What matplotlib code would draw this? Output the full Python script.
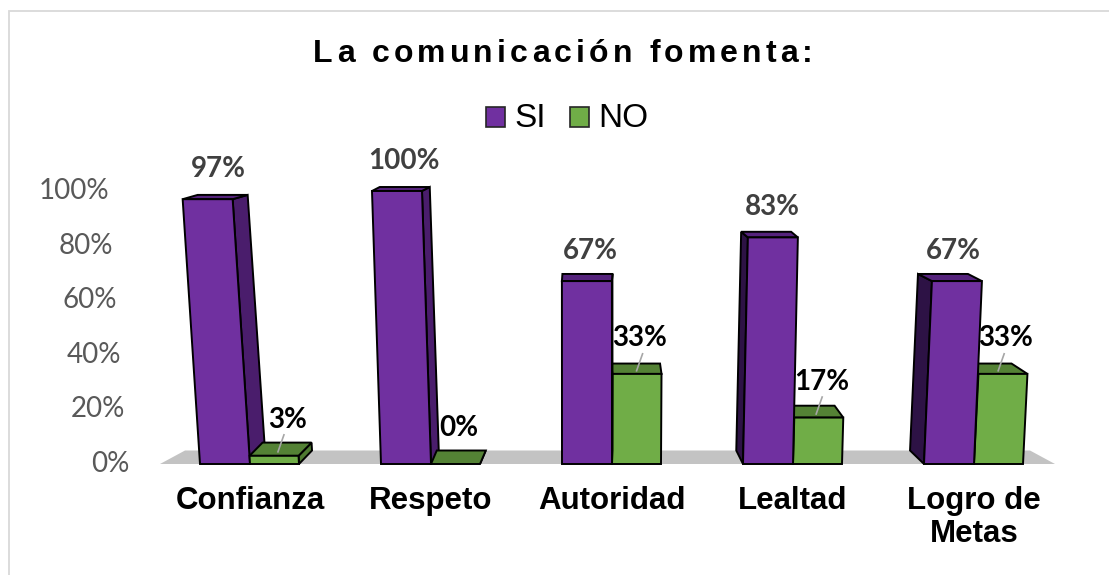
import numpy as np
import matplotlib
matplotlib.use('Agg')
import matplotlib.pyplot as plt
from matplotlib.patches import Polygon, Rectangle
from matplotlib import font_manager
from matplotlib.ft2font import FT2Font

# data
categories = ['Confianza', 'Respeto', 'Autoridad', 'Lealtad', 'Logro de\nMetas']
si = [97, 100, 67, 83, 67]
no = [3, 0, 33, 17, 33]
series = ['SI', 'NO']
yticks = [0, 20, 40, 60, 80, 100]
title = 'La comunicación fomenta:'

# colours
purple = {'front': '#7030A0', 'top': '#55237C', 'right': '#4A1D6C', 'left': '#2D1245'}
green = {'front': '#70AD47', 'top': '#548235', 'right': '#4E7A31', 'left': '#3F6327'}

# layout in pixels (figure is 1109x575 at 100 dpi)
W, H = 1109, 575
X0, STEP = 250, 181      # pixel x of first category centre, spacing
Y0, PPY = 464, 2.73      # pixel y of the 0% line, pixels per percent
VX = 600                 # horizontal vanishing point for the fake 3d

fig = plt.figure(figsize=(W / 100, H / 100), dpi=100)
ax = fig.add_axes([0, 0, 1, 1])
ax.set_xlim(-X0 / STEP, (W - X0) / STEP)
ax.set_ylim(-(H - Y0) / PPY, Y0 / PPY)
ax.axis('off')


def to_data(pts):
    # pixel offsets (x from left, y up from the 0% line) -> data coords
    return [((px - X0) / STEP, py / PPY) for px, py in pts]


def shear(xc):
    d = xc - 590
    return 0.00049 * d if d < 0 else 0.00033 * d


def bar3d(xl, xr, h, col):
    xc = (xl + xr) / 2
    s = shear(xc) * h
    hp = h * PPY
    dx = 0.04 * (VX - xc)
    dyt = 13.5 - 0.095 * h
    dyb = 13.5
    bl, br, tr, tl = (xl, 0), (xr, 0), (xr + s, hp), (xl + s, hp)
    kw = dict(edgecolor='black', linewidth=1.4, joinstyle='miter', zorder=3)
    if dx > 0.5:
        side = [br, tr, (tr[0] + dx, tr[1] + dyt), (br[0] + dx, dyb)]
        ax.add_patch(Polygon(to_data(side), facecolor=col['right'], **kw))
    elif dx < -0.5:
        side = [bl, tl, (tl[0] + dx, tl[1] + dyt), (bl[0] + dx, dyb)]
        ax.add_patch(Polygon(to_data(side), facecolor=col['left'], **kw))
    top = [tl, tr, (tr[0] + dx, tr[1] + dyt), (tl[0] + dx, tl[1] + dyt)]
    ax.add_patch(Polygon(to_data(top), facecolor=col['top'], **kw))
    if h > 0:
        ax.add_patch(Polygon(to_data([bl, br, tr, tl]), facecolor=col['front'], **kw))
    return xc + s, hp, dx, dyt


# floor
floor = [(160, 0), (1055, 0), (1030, 13.5), (185, 13.5)]
ax.add_patch(Polygon(to_data(floor), facecolor='#C3C3C3', edgecolor='none', zorder=1))

lab_si = dict(fontsize=20, fontweight='bold', color='#404040', family=['Lato', 'DejaVu Sans'],
              ha='center', va='center', zorder=5)
lab_no = dict(lab_si, color='black')

for i, cat in enumerate(categories):
    c = X0 + STEP * i
    order = ['si', 'no'] if (VX - c) >= 0 else ['no', 'si']
    for which in order:
        if which == 'si':
            xt, hp, dx, dy = bar3d(c - 50, c, si[i], purple)
            x, y = to_data([(xt + dx / 2 + 3, hp + 30)])[0]
            ax.text(x, y, f'{si[i]}%', **lab_si)
        else:
            xt, hp, dx, dy = bar3d(c, c + 49, no[i], green)
            off = 3 + (0.8 * max(dx, 0) if no[i] > 0 else 0)
            x, y = to_data([(xt + off, hp + 36)])[0]
            ax.text(x, y, f'{no[i]}%', **lab_no)
            if no[i] > 0:
                x0 = xt + dx * 0.3
                y0 = hp + dy * 0.3
                line = to_data([(x0, y0), (x0 + 6, y0 + 17)])
                ax.plot([p[0] for p in line], [p[1] for p in line], color='#A6A6A6',
                        lw=1.2, zorder=4)
    x, y = to_data([(c, -22)])[0]
    ax.text(x, y, cat, fontsize=22.5, fontweight='bold', family=['Liberation Sans', 'DejaVu Sans'],
            ha='center', va='top', linespacing=1.13, zorder=5)

# y tick labels, slanted a little like the 3d wall
for v in yticks:
    x, y = to_data([(129 - 0.2 * v, v * PPY)])[0]
    ax.text(x, y, f'{v}%', fontsize=20, color='#595959', family=['Lato', 'DejaVu Sans'],
            ha='right', va='center')

# title with letter spacing
prop = font_manager.FontProperties(family='Liberation Sans', weight='bold')
font = FT2Font(font_manager.findfont(prop), hinting_factor=1)
tsize = 23
font.set_size(tsize, 100)
advs = [font.load_char(ord(ch)).linearHoriAdvance / 65536 for ch in title]
track = (500 - sum(advs)) / (len(title) - 1)
xpos = 313
for ch, a in zip(title, advs):
    fig.text(xpos / W, 1 - 62 / H, ch, fontsize=tsize, fontweight='bold',
             family=['Liberation Sans', 'DejaVu Sans'], ha='left', va='baseline')
    xpos += a + track

# legend
leg = [(486, series[0], purple['front']), (570, series[1], green['front'])]
for lx, name, fc in leg:
    fig.patches.append(Rectangle((lx / W, 1 - 127 / H), 19 / W, 20 / H, facecolor=fc,
                                 edgecolor='#262626', linewidth=1.2,
                                 transform=fig.transFigure))
    fig.text((lx + 28) / W, 1 - 127 / H, name, fontsize=24, color='black',
             family=['Liberation Sans', 'DejaVu Sans'], ha='left', va='baseline')

# chart border
fig.patches.append(Rectangle((9 / W, -0.05), 1.1, 1.05 - 11 / H, fill=False,
                             edgecolor='#D9D9D9', linewidth=1.3,
                             transform=fig.transFigure))

fig.savefig('out.png', dpi=100)
